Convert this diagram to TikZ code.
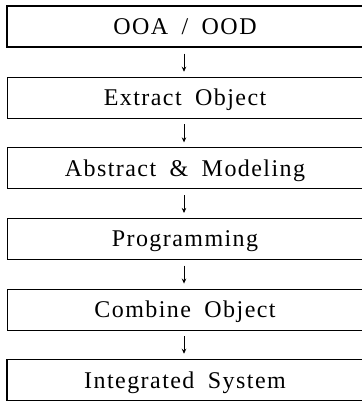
\documentclass[tikz,border=0pt]{standalone}
\usepackage{fontspec}
\setmainfont{Liberation Serif}[LetterSpace=6,WordSpace=1.8]
\usetikzlibrary{arrows.meta}
\begin{document}
\begin{tikzpicture}[x=1pt,y=1pt,
  stepbox/.style={draw=black,line width=0.7pt,minimum width=356pt,minimum height=41pt,inner sep=0pt,font=\fontsize{24}{27}\selectfont,text depth=0pt},
  endbox/.style={stepbox,line width=1.5pt},
  flow/.style={line width=0.7pt,-{Stealth[length=5pt,width=4.5pt]}}]
\useasboundingbox (0,0) rectangle (361,-401);
\node[endbox]  (n1) at (185,-26.5) {OOA / OOD};
\node[stepbox] (n2) at (185,-97.6) {Extract Object};
\node[stepbox] (n3) at (185,-168.2) {Abstract \& Modeling};
\node[stepbox] (n4) at (185,-238.8) {Programming};
\node[stepbox] (n5) at (185,-309.4) {Combine Object};
\node[endbox]  (n6) at (185,-380) {Integrated System};
\foreach \a/\b in {n1/n2,n2/n3,n3/n4,n4/n5,n5/n6}
  \draw[flow] ([xshift=-1pt,yshift=-6pt]\a.south) -- ([xshift=-1pt,yshift=5pt]\b.north);
\end{tikzpicture}
\end{document}
